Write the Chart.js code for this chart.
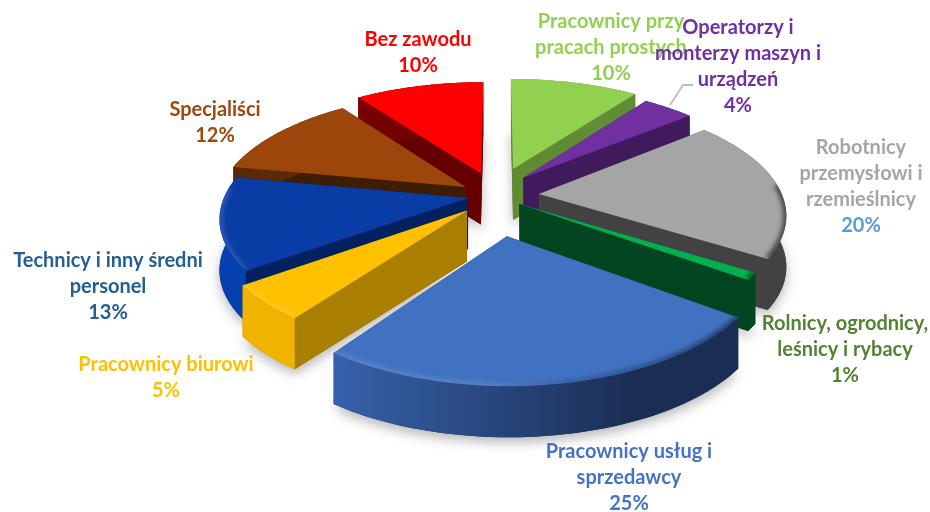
<!DOCTYPE html>
<html>
<head>
<meta charset="utf-8">
<title>Pie</title>
<script src="https://cdn.jsdelivr.net/npm/chart.js@4/dist/chart.umd.min.js"></script>
<style>
  body { margin: 0; background: #fff; }
  #wrap { width: 930px; height: 512px; position: relative; }
</style>
</head>
<body>
<div id="wrap"><canvas id="pieChart" width="930" height="512"></canvas></div>
<script>
const categories = ['Pracownicy przy pracach prostych', 'Operatorzy i monterzy maszyn i urządzeń', 'Robotnicy przemysłowi i rzemieślnicy', 'Rolnicy, ogrodnicy, leśnicy i rybacy', 'Pracownicy usług i sprzedawcy', 'Pracownicy biurowi', 'Technicy i inny średni personel', 'Specjaliści', 'Bez zawodu'];
const values = [10, 4, 20, 1, 25, 5, 13, 12, 10];

// styles
const topColors = ['#92D050', '#7030A0', '#A5A5A5', '#00B050', '#4171C1', '#FFC000', '#0A3CA6', '#9C460B', '#FF0000'];
const wallColors = ['#618A35', '#3F1A5C', '#424242', '#00451F', '#1A2D52', '#A87F00', '#03215F', '#3F1C04', '#660000'];
const sideLight = ['#6C9A3B', '#4A2070', '#4F4F4F', '#005A28', '#3762AC', '#F0B400', '#0640B0', '#5A2A08', '#7A0000'];
const sideDark = ['#618A35', '#3F1A5C', '#424242', '#00451F', '#1A2D52', '#D09E00', '#04349A', '#3F1C04', '#660000'];
// how far each slice is pulled out, in pie radii
const pullX = [0.063, 0.105, 0.165, 0.085, 0.034, -0.122, -0.12, -0.131, -0.071];
const pullY = [-0.2825, -0.199, -0.053, 0.035, 0.3, 0.09, -0.018, -0.115, -0.241];
const rimScale = [1, 1, 0.98, 1, 0.97, 0.97, 0.98, 1, 1];

const labelLines = [
  ['Pracownicy przy', 'pracach prostych'],
  ['Operatorzy i', 'monterzy maszyn i', 'urządzeń'],
  ['Robotnicy', 'przemysłowi i', 'rzemieślnicy'],
  ['Rolnicy, ogrodnicy,', 'leśnicy i rybacy'],
  ['Pracownicy usług i', 'sprzedawcy'],
  ['Pracownicy biurowi'],
  ['Technicy i inny średni', 'personel'],
  ['Specjaliści'],
  ['Bez zawodu']
];
const labelColors = ['#92D050', '#7030A0', '#A5A5A5', '#548235', '#4472C4', '#FFC000', '#255E91', '#9E480E', '#FF0000'];
const valueColors = ['#92D050', '#7030A0', '#5B9BD5', '#548235', '#4472C4', '#FFC000', '#255E91', '#9E480E', '#FF0000'];
const labelX = [611, 738, 861, 845, 629, 166, 108, 215, 418];
const labelY = [22, 28, 148, 324, 452, 365, 261, 110, 40];
const lineGap = 26;

// perspective of the pie plane
const view = { cx: 498, cy: 200, a: 250, b: 115, q: 0.17, depth: 51 };

function project(x, y, drop) {
  const w = 1 - view.q * y;
  return [view.cx + view.a * x / w, view.cy + view.b * y / w + (drop || 0)];
}

function tracePoints(ctx, pts, close) {
  ctx.beginPath();
  pts.forEach((p, i) => i ? ctx.lineTo(p[0], p[1]) : ctx.moveTo(p[0], p[1]));
  if (close) ctx.closePath();
}

function drawSlice(ctx, arc, i) {
  const ox = pullX[i];
  const oy = pullY[i];
  const r = rimScale[i];
  const steps = 50;
  const rim = [];
  for (let s = 0; s <= steps; s++) {
    const ang = arc.startAngle + (arc.endAngle - arc.startAngle) * s / steps;
    rim.push([ox + r * Math.cos(ang), oy + r * Math.sin(ang), ang]);
  }
  const apex = project(ox, oy);
  const apexLow = project(ox, oy, view.depth);
  const top = rim.map(p => project(p[0], p[1]));
  const low = rim.map(p => project(p[0], p[1], view.depth));

  // soft shadow on the floor
  ctx.save();
  ctx.shadowColor = 'rgba(0,0,0,0.28)';
  ctx.shadowBlur = 12;
  ctx.shadowOffsetY = 5;
  ctx.fillStyle = wallColors[i];
  tracePoints(ctx, [apexLow].concat(low), true);
  ctx.fill();
  ctx.restore();

  // cut walls
  ctx.fillStyle = wallColors[i];
  tracePoints(ctx, [apex, top[0], low[0], apexLow], true);
  ctx.fill();
  tracePoints(ctx, [apex, top[steps], low[steps], apexLow], true);
  ctx.fill();

  // outer wall
  const grad = ctx.createLinearGradient(330, 0, 640, 0);
  grad.addColorStop(0, sideLight[i]);
  grad.addColorStop(1, sideDark[i]);
  ctx.fillStyle = grad;
  tracePoints(ctx, top.concat(low.slice().reverse()), true);
  ctx.fill();

  // top face
  ctx.fillStyle = topColors[i];
  tracePoints(ctx, [apex].concat(top), true);
  ctx.fill();

  // rounded rim, light on the left and shaded on the right
  const near = top.filter((p, s) => Math.sin(rim[s][2]) > -0.1);
  if (near.length > 1) {
    const shade = ctx.createLinearGradient(230, 0, 790, 0);
    shade.addColorStop(0, 'rgba(255,255,255,0.14)');
    shade.addColorStop(0.45, 'rgba(255,255,255,0.12)');
    shade.addColorStop(0.6, 'rgba(0,0,0,0.12)');
    shade.addColorStop(1, 'rgba(0,0,0,0.55)');
    ctx.save();
    tracePoints(ctx, [apex].concat(top), true);
    ctx.clip();
    ctx.filter = 'blur(2px)';
    ctx.strokeStyle = shade;
    ctx.lineWidth = 7;
    tracePoints(ctx, near, false);
    ctx.stroke();
    ctx.restore();
  }
}

const pie3d = {
  id: 'pie3d',
  beforeDatasetDraw(chart, args) {
    const arcs = chart.getDatasetMeta(args.index).data;
    const order = arcs.map((arc, i) => i).sort((m, n) => {
      return Math.sin((arcs[m].startAngle + arcs[m].endAngle) / 2) - Math.sin((arcs[n].startAngle + arcs[n].endAngle) / 2);
    });
    order.forEach(i => drawSlice(chart.ctx, arcs[i], i));
    return false;
  },
  afterDraw(chart) {
    const ctx = chart.ctx;
    // leader line of the small slice
    ctx.strokeStyle = '#BFBFBF';
    ctx.lineWidth = 2;
    ctx.beginPath();
    ctx.moveTo(670, 105);
    ctx.lineTo(683, 85);
    ctx.lineTo(693, 85);
    ctx.stroke();

    ctx.font = 'bold 20px Lato';
    ctx.textAlign = 'center';
    ctx.textBaseline = 'middle';
    categories.forEach((name, i) => {
      ctx.fillStyle = labelColors[i];
      labelLines[i].forEach((line, n) => ctx.fillText(line, labelX[i], labelY[i] + n * lineGap));
      ctx.fillStyle = valueColors[i];
      ctx.fillText(values[i] + '%', labelX[i], labelY[i] + labelLines[i].length * lineGap);
    });
  }
};

new Chart(document.getElementById('pieChart'), {
  type: 'pie',
  data: {
    labels: categories,
    datasets: [{
      data: values,
      backgroundColor: topColors,
      borderWidth: 0
    }]
  },
  options: {
    responsive: false,
    animation: false,
    plugins: {
      legend: { display: false },
      tooltip: { enabled: false }
    }
  },
  plugins: [pie3d]
});
</script>
</body>
</html>
